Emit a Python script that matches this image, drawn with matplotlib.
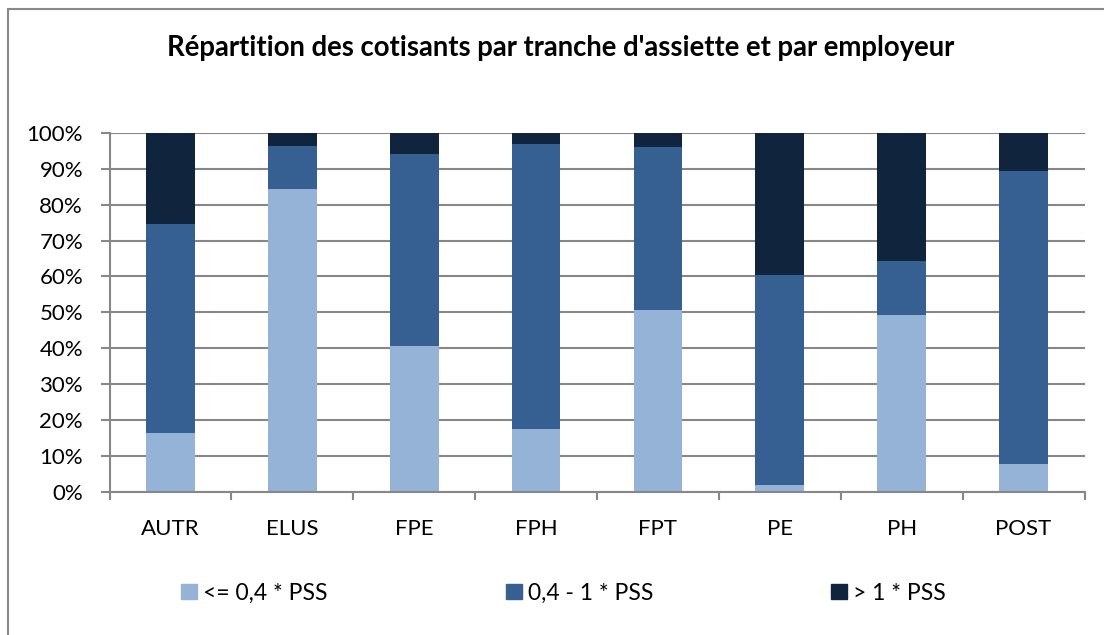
import numpy as np
import matplotlib.pyplot as plt
from matplotlib.patches import Rectangle, Patch

# Parts of contributors by pay bracket (% of each employer)
employeurs = ['AUTR', 'ELUS', 'FPE', 'FPH', 'FPT', 'PE', 'PH', 'POST']
bas = [16.4, 84.5, 40.6, 17.4, 50.6, 1.8, 49.3, 7.8]           # <= 0,4 * PSS
milieu = [58.3, 12.0, 53.6, 79.6, 45.5, 58.6, 15.0, 81.7]      # 0,4 - 1 * PSS
haut = [25.3, 3.5, 5.8, 3.0, 3.9, 39.6, 35.7, 10.5]            # > 1 * PSS
series = ['<= 0,4 * PSS', '0,4 - 1 * PSS', '> 1 * PSS']
couleurs = ['#95B3D7', '#366092', '#10243E']

plt.rcParams['font.family'] = ['Lato', 'DejaVu Sans']

fig = plt.figure(figsize=(11.04, 6.35), dpi=100)
ax = fig.add_axes([109.5 / 1104, 1 - 491.5 / 635, (1084.5 - 109.5) / 1104, (491.5 - 133) / 635])

x = np.arange(len(employeurs))
w = 0.4
b1 = ax.bar(x, bas, w, color=couleurs[0], zorder=3)
b2 = ax.bar(x, milieu, w, bottom=bas, color=couleurs[1], zorder=3)
b3 = ax.bar(x, haut, w, bottom=np.array(bas) + np.array(milieu), color=couleurs[2], zorder=3)

grid = '#878787'
ax.set_xlim(-0.5, len(employeurs) - 0.5)
ax.set_ylim(0, 100)
ax.set_yticks(np.arange(0, 101, 10))
ax.set_yticklabels([f'{v}%' for v in range(0, 101, 10)], fontsize=16)
ax.yaxis.grid(True, color=grid, linewidth=1.5, zorder=0)
ax.set_xticks(x)
ax.set_xticklabels(employeurs, fontsize=16)
ax.set_xticks(np.arange(-0.5, len(employeurs)), minor=True)
ax.tick_params(axis='x', which='major', length=0, pad=20)
ax.tick_params(axis='x', which='minor', length=6, width=1.5, color=grid)
ax.tick_params(axis='y', length=6.5, width=1.5, color=grid, pad=12.5)
for s in ['top', 'right']:
    ax.spines[s].set_visible(False)
for s in ['left', 'bottom']:
    ax.spines[s].set_color(grid)
    ax.spines[s].set_linewidth(1.5)
    ax.spines[s].set_zorder(4)

fig.text(561 / 1104, 1 - 48 / 635, "Répartition des cotisants par tranche d'assiette et par employeur",
         ha='center', va='center', fontsize=19.8, fontweight='bold')

# legend entries spread evenly like the original
for lab, col, xp in zip(series, couleurs, [181, 506, 831]):
    fig.legend(handles=[Patch(color=col, label=lab)], loc='center left',
               bbox_to_anchor=(xp / 1104, 1 - 593 / 635), frameon=False,
               fontsize=16.5, handlelength=0.68, handleheight=0.68,
               handletextpad=0.3, borderpad=0, borderaxespad=0)

# outer chart frame
fig.patches.append(Rectangle((7.5 / 1104, -0.1), 1.2, 1.1 - 8.5 / 635,
                             transform=fig.transFigure, fill=False,
                             edgecolor='#898989', linewidth=1.5))

fig.savefig('out.png', dpi=100, facecolor='white')
